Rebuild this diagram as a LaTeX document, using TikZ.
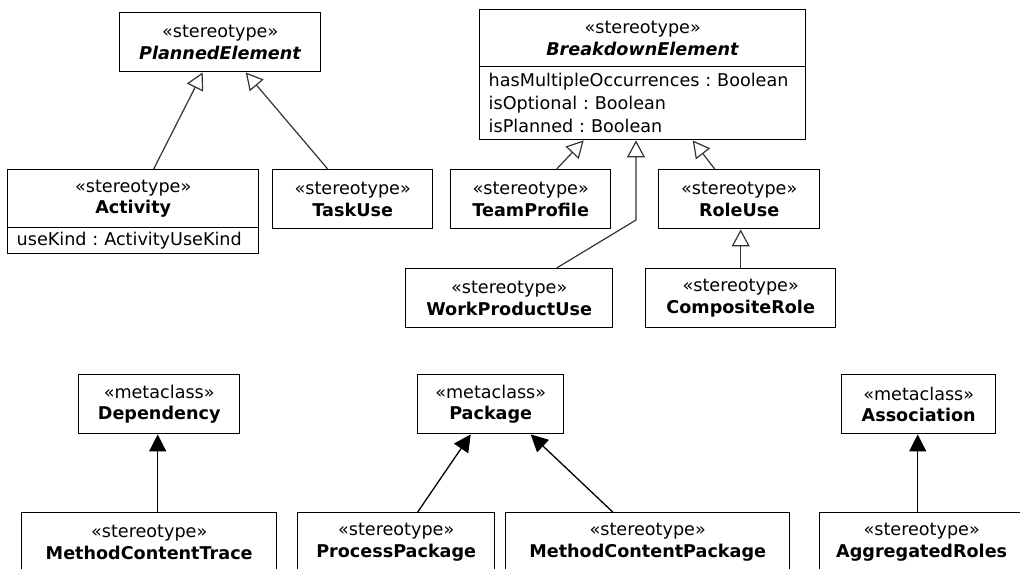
\documentclass[tikz,border=0pt]{standalone}
\usepackage{fontspec}
\setmainfont{DejaVu Sans}
\usetikzlibrary{arrows.meta,calc}
\frenchspacing
\begin{document}
\begin{tikzpicture}[x=1pt,y=-1pt,
  every node/.style={font=\fontsize{17.6}{21.5}\selectfont},
  umlbox/.style={draw=black,line width=1.4pt,inner sep=0pt,align=center,anchor=north west},
  attrbox/.style={draw=black,line width=1.4pt,inner xsep=9pt,inner ysep=0pt,align=left,anchor=north west},
  gen/.style={draw=black!80,line width=1.2pt,-{Triangle[open,length=17pt,width=18pt,line width=1.2pt]}},
  ext/.style={draw=black,line width=1.3pt,-{Triangle[length=17pt,width=17pt]}}]
\useasboundingbox (0,0) rectangle (1020,568);
\clip (0,0) rectangle (1020,568);
% top left
\node[umlbox,minimum width=201pt,minimum height=59pt] (pe) at (119,12) {«stereotype»\\\textbf{\textit{PlannedElement}}};
\node[umlbox,minimum width=251pt,minimum height=58pt] (act) at (7,169) {«stereotype»\\\textbf{Activity}};
\node[attrbox,text width=233pt,minimum height=26pt] (actattr) at (7,227) {useKind : ActivityUseKind};
\node[umlbox,minimum width=160pt,minimum height=59pt] (tu) at (272,169) {«stereotype»\\\textbf{TaskUse}};
\draw[gen] ([xshift=20.5pt]act.north) -- ([xshift=-17.5pt]pe.south);
\draw[gen] ([xshift=-25pt]tu.north) -- ([xshift=25.5pt]pe.south);
% top right
\node[umlbox,minimum width=326pt,minimum height=57pt] (be) at (479,9) {«stereotype»\\\textbf{\textit{BreakdownElement}}};
\node[attrbox,text width=308pt,minimum height=73pt,font=\fontsize{17.6}{23}\selectfont] (beattr) at (479,66) {hasMultipleOccurrences : Boolean\\isOptional : Boolean\\isPlanned : Boolean};
\node[umlbox,minimum width=160pt,minimum height=59pt] (tp) at (450,169) {«stereotype»\\\textbf{TeamProfile}};
\node[umlbox,minimum width=161pt,minimum height=59pt] (ru) at (658,169) {«stereotype»\\\textbf{RoleUse}};
\node[umlbox,minimum width=207pt,minimum height=59pt] (wpu) at (405,268) {«stereotype»\\\textbf{WorkProductUse}};
\node[umlbox,minimum width=190pt,minimum height=59pt] (cr) at (645,268) {«stereotype»\\\textbf{CompositeRole}};
\coordinate (bend) at (636,220);
\draw[gen] ([xshift=26pt]tp.north) -- ([xshift=-59pt]beattr.south);
\draw[gen] ([xshift=-24.5pt]ru.north) -- ([xshift=50pt]beattr.south);
\draw[gen] ([xshift=47.5pt]wpu.north) -- (bend) -- (bend |- beattr.south);
\draw[gen] (cr.north) -- (cr.north |- ru.south);
% bottom
\node[umlbox,minimum width=161pt,minimum height=59pt] (dep) at (78,374) {«metaclass»\\\textbf{Dependency}};
\node[umlbox,minimum width=255pt,minimum height=59pt] (mct) at (21,512) {«stereotype»\\\textbf{MethodContentTrace}};
\node[umlbox,minimum width=146pt,minimum height=59pt] (pkg) at (417,374) {«metaclass»\\\textbf{Package}};
\node[umlbox,minimum width=197pt,minimum height=59pt] (pp) at (297,512) {«stereotype»\\\textbf{ProcessPackage}};
\node[umlbox,minimum width=284pt,minimum height=59pt] (mcp) at (505,512) {«stereotype»\\\textbf{MethodContentPackage}};
\node[umlbox,minimum width=154pt,minimum height=59pt] (assoc) at (841,374) {«metaclass»\\\textbf{Association}};
\node[umlbox,minimum width=204pt,minimum height=59pt] (ar) at (819,512) {«stereotype»\\\textbf{AggregatedRoles}};
\draw[ext] ([xshift=8.5pt]mct.north) -- ([xshift=8.5pt]mct.north |- dep.south);
\draw[ext] ([xshift=21.5pt]pp.north) -- ([xshift=-20pt]pkg.south);
\draw[ext] ([xshift=-35pt]mcp.north) -- ([xshift=40pt]pkg.south);
\draw[ext] ([xshift=-4pt]ar.north) -- ([xshift=-4pt]ar.north |- assoc.south);
\end{tikzpicture}
\end{document}
